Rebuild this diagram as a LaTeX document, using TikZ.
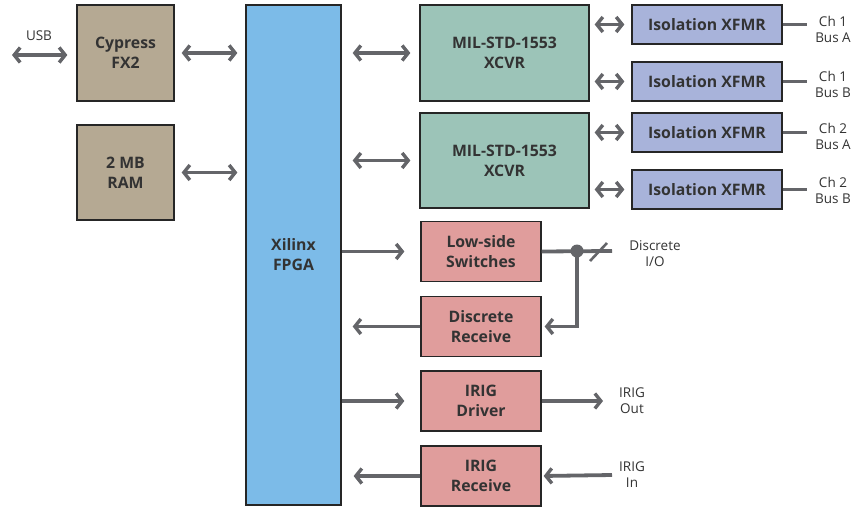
\documentclass[tikz,border=0pt]{standalone}
\usepackage{fontspec}
\setmainfont{Open Sans}
\usepackage{xcolor}
\usetikzlibrary{arrows.meta}

\definecolor{boxtan}{HTML}{B5A993}
\definecolor{boxblue}{HTML}{7CBBE8}
\definecolor{boxteal}{HTML}{9CC4B8}
\definecolor{boxlav}{HTML}{A8B3DA}
\definecolor{boxpink}{HTML}{E09D9C}
\definecolor{wire}{HTML}{646569}
\definecolor{ink}{HTML}{333333}

\begin{document}
\begin{tikzpicture}[x=1pt,y=-1pt,
	block/.style={draw=black!85, line width=1.3pt, text=ink, align=center, inner sep=0pt,
		font=\bfseries\fontsize{15.8}{20}\selectfont},
	lbl/.style={text=ink, align=center, inner sep=0pt, font=\fontsize{13.5}{16}\selectfont},
	link/.style={draw=wire, line width=3.8pt, -{Straight Barb[length=6pt,width=15pt,line width=3.4pt]}},
	both/.style={link, {Straight Barb[length=6pt,width=15pt,line width=3.4pt]}-{Straight Barb[length=6pt,width=15pt,line width=3.4pt]}},
	plain/.style={draw=wire, line width=3.8pt}]

	\useasboundingbox (0,0) rectangle (864,506);

	\node[block, fill=boxtan, minimum width=97pt, minimum height=96pt] (cypress) at (125.5,53) {Cypress\\FX2};
	\node[block, fill=boxtan, minimum width=97pt, minimum height=95pt] (ram) at (125.5,172.5) {2 MB\\RAM};
	\node[block, fill=boxblue, minimum width=95pt, minimum height=500pt] (fpga) at (293.5,255) {};
	\node[text=ink, align=center, font=\bfseries\fontsize{15.8}{20}\selectfont] at (293.5,255) {Xilinx\\FPGA};

	\node[block, fill=boxteal, minimum width=169pt, minimum height=96pt] (xcvrA) at (504.5,53) {MIL-STD-1553\\XCVR};
	\node[block, fill=boxteal, minimum width=169pt, minimum height=95pt] (xcvrB) at (504.5,160.5) {MIL-STD-1553\\XCVR};

	\node[block, fill=boxlav, minimum width=150pt, minimum height=39pt] (xfmrA) at (707,24.5) {Isolation XFMR};
	\node[block, fill=boxlav, minimum width=150pt, minimum height=39pt] (xfmrB) at (707,81.5) {Isolation XFMR};
	\node[block, fill=boxlav, minimum width=150pt, minimum height=39pt] (xfmrC) at (707,132.5) {Isolation XFMR};
	\node[block, fill=boxlav, minimum width=150pt, minimum height=39pt] (xfmrD) at (707,189.5) {Isolation XFMR};

	\node[block, fill=boxpink, minimum width=120pt, minimum height=60pt] (lowside) at (481,251.5) {Low-side\\Switches};
	\node[block, fill=boxpink, minimum width=120pt, minimum height=60pt] (discrx) at (481,326.5) {Discrete\\Receive};
	\node[block, fill=boxpink, minimum width=120pt, minimum height=60pt] (irigdrv) at (481,401) {IRIG\\Driver};
	\node[block, fill=boxpink, minimum width=120pt, minimum height=60pt] (irigrx) at (481,476) {IRIG\\Receive};

	% outside labels
	\node[lbl] (usb) at (39,36) {USB};
	\node[lbl] (ch1a) at (833,29) {Ch 1\\Bus A};
	\node[lbl] (ch1b) at (833,84) {Ch 1\\Bus B};
	\node[lbl] (ch2a) at (833,136) {Ch 2\\Bus A};
	\node[lbl] (ch2b) at (833,190) {Ch 2\\Bus B};
	\node[lbl] (dio) at (655,254) {Discrete\\I/O};
	\node[lbl] (irigout) at (632,401) {IRIG\\Out};
	\node[lbl] (irigin) at (632,475) {IRIG\\In};

	\coordinate (usbend) at (12,55);
	\coordinate (dioend) at (612,251);
	\coordinate (tap) at (577,251);
	\coordinate (outend) at (603,401);
	\coordinate (inend) at (612,475);

	\draw[both, shorten >=9pt] (usbend) -- (usbend -| cypress.west);
	\draw[both, shorten <=7pt, shorten >=8pt] (cypress.east) -- (cypress.east -| fpga.west);
	\draw[both, shorten <=7pt, shorten >=8pt] (ram.east) -- (ram.east -| fpga.west);
	\draw[both, shorten <=11pt, shorten >=9pt] (xcvrA.west -| fpga.east) -- (xcvrA.west);
	\draw[both, shorten <=11pt, shorten >=9pt] (xcvrB.west -| fpga.east) -- (xcvrB.west);

	\foreach \x/\c in {xfmrA/xcvrA, xfmrB/xcvrA, xfmrC/xcvrB, xfmrD/xcvrB}
		\draw[both, shorten <=5pt, shorten >=7pt] (\x.west -| \c.east) -- (\x.west);
	\foreach \x/\l in {xfmrA/ch1a, xfmrB/ch1b, xfmrC/ch2a, xfmrD/ch2b}
		\draw[plain] (\x.east) -- ++(24,0);

	\draw[link, shorten >=16pt] (lowside.west -| fpga.east) -- (lowside.west);
	\draw[plain] (lowside.east) -- (dioend);
	\draw[wire, line width=2.6pt] (590,261) -- (607,243);
	\fill[wire] (tap) circle (6.5pt);
	\draw[link, shorten >=3pt] (tap) |- (discrx.east);
	\draw[link, shorten >=11pt] (discrx.west) -- (discrx.west -| fpga.east);

	\draw[link, shorten >=16pt] (irigdrv.west -| fpga.east) -- (irigdrv.west);
	\draw[link] (irigdrv.east) -- (outend);
	\draw[link, shorten >=2pt] (inend) -- (irigrx.east);
	\draw[link, shorten >=12pt] (irigrx.west) -- (irigrx.west -| fpga.east);

\end{tikzpicture}
\end{document}
